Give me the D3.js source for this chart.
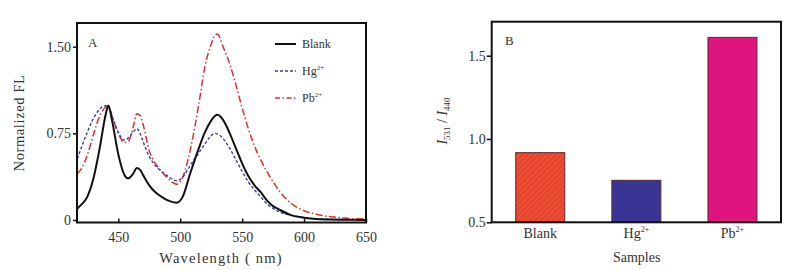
<!DOCTYPE html>
<html>
<head>
<meta charset="utf-8">
<script src="https://cdn.jsdelivr.net/npm/d3@7"></script>
<style>
  body { margin: 0; background: #fff; }
  svg { display: block; }
  svg text { font-family: "Liberation Serif", "DejaVu Serif", serif; }
</style>
</head>
<body>
<svg id="chart" width="802" height="270"></svg>
<script>
// panel A: normalized fluorescence spectra
const wavelengths = [417, 420, 425, 430, 435, 440, 442, 445, 450, 455, 458, 462, 465, 468, 470, 475, 480, 485, 490, 497,
  502, 508, 515, 520, 525, 528, 530, 535, 540, 545, 550, 555, 560, 565, 570, 575, 580, 590, 600, 610, 620, 630, 640, 650];
const blankFL = [0.10, 0.13, 0.20, 0.36, 0.62, 0.92, 0.99, 0.86, 0.57, 0.39, 0.36, 0.40, 0.45, 0.43, 0.39, 0.30, 0.24, 0.20, 0.17, 0.15,
  0.20, 0.40, 0.62, 0.76, 0.86, 0.90, 0.91, 0.86, 0.75, 0.62, 0.49, 0.38, 0.30, 0.24, 0.17, 0.12, 0.09, 0.04, 0.02, 0.008, 0.004, 0.002, 0.001, 0];
const hgFL = [0.53, 0.62, 0.76, 0.88, 0.96, 0.99, 0.98, 0.90, 0.76, 0.69, 0.71, 0.76, 0.79, 0.74, 0.68, 0.55, 0.47, 0.42, 0.38, 0.34,
  0.37, 0.47, 0.58, 0.66, 0.73, 0.75, 0.745, 0.70, 0.62, 0.52, 0.42, 0.33, 0.26, 0.20, 0.14, 0.10, 0.07, 0.04, 0.02, 0.01, 0.006, 0.004, 0.003, 0.002];
const pbFL = [0.40, 0.44, 0.56, 0.74, 0.90, 0.98, 0.99, 0.90, 0.75, 0.67, 0.68, 0.80, 0.92, 0.90, 0.83, 0.60, 0.49, 0.42, 0.36, 0.31,
  0.37, 0.60, 1.00, 1.33, 1.52, 1.60, 1.61, 1.49, 1.35, 1.17, 0.97, 0.79, 0.64, 0.52, 0.42, 0.33, 0.25, 0.14, 0.08, 0.05, 0.03, 0.02, 0.01, 0.01];
const flTicks = [0, 0.75, 1.5];
const wlTicks = [450, 500, 550, 600, 650];

// panel B: I531/I440 ratio
const samples = ["Blank", "Hg", "Pb"];
const sampleSup = ["", "2+", "2+"];
const ratios = [0.918, 0.752, 1.61];
const ratioTicks = [0.5, 1.0, 1.5];

const svg = d3.select("#chart");
const txt = "#333";
const serif = "Liberation Serif";

// ---------- panel A ----------
const x = d3.scaleLinear().domain([416.7, 650]).range([77, 366]);
const y = d3.scaleLinear().domain([-0.022, 1.705]).range([222.5, 23]);

const gA = svg.append("g");

const yAxisA = gA.append("g")
  .attr("transform", "translate(77,0)")
  .call(d3.axisLeft(y).tickValues(flTicks).tickSize(4).tickPadding(2)
    .tickFormat(d => d === 0 ? "0" : d3.format(".2f")(d)));
const xAxisA = gA.append("g")
  .attr("transform", "translate(0,222.5)")
  .call(d3.axisBottom(x).tickValues(wlTicks).tickSizeInner(-4).tickSizeOuter(0).tickPadding(10));
[yAxisA, xAxisA].forEach(a => {
  a.attr("font-family", serif).attr("font-size", 14);
  a.select(".domain").remove();
  a.selectAll(".tick line").attr("stroke", "#111").attr("stroke-width", 1.5);
  a.selectAll("text").attr("fill", txt);
});

const series = [
  { name: "Blank", sup: "", vals: blankFL, color: "#111", width: 2, dash: null },
  { name: "Hg", sup: "2+", vals: hgFL, color: "#3c3f9c", width: 1.4, dash: "3,2" },
  { name: "Pb", sup: "2+", vals: pbFL, color: "#e0302c", width: 1.5, dash: "7,2.5,1.5,2.5" }
];

const line = d3.line()
  .x((d, i) => x(wavelengths[i]))
  .y(d => y(d))
  .curve(d3.curveMonotoneX);

// back to front so the black line sits on top
[series[2], series[1], series[0]].forEach(s => {
  gA.append("path")
    .datum(s.vals)
    .attr("d", line)
    .attr("fill", "none")
    .attr("stroke", s.color)
    .attr("stroke-width", s.width)
    .attr("stroke-dasharray", s.dash);
});

gA.append("rect")
  .attr("x", 77).attr("y", 23).attr("width", 289).attr("height", 199.5)
  .attr("fill", "none").attr("stroke", "#111").attr("stroke-width", 2);

// legend
series.forEach((s, i) => {
  const ly = 44 + i * 27;
  gA.append("line")
    .attr("x1", 275).attr("x2", 296).attr("y1", ly).attr("y2", ly)
    .attr("stroke", s.color).attr("stroke-width", s.width)
    .attr("stroke-dasharray", s.dash ? (i === 1 ? "3,2" : "5,2.5,1.5,2.5") : null);
  const t = gA.append("text")
    .attr("x", 302).attr("y", ly + 4)
    .attr("font-size", 12).attr("fill", txt)
    .text(s.name);
  if (s.sup) t.append("tspan").attr("dy", -5).attr("font-size", 7).text(s.sup);
});

gA.append("text").attr("x", 88).attr("y", 47)
  .attr("font-size", 13).attr("fill", txt).text("A");

gA.append("text")
  .attr("x", 221).attr("y", 263)
  .attr("text-anchor", "middle").attr("font-size", 14.5)
  .attr("letter-spacing", 1.2).attr("fill", txt)
  .text("Wavelength ( nm)");

gA.append("text")
  .attr("transform", "translate(24,123) rotate(-90)")
  .attr("text-anchor", "middle").attr("font-size", 14.5)
  .attr("letter-spacing", 0.6).attr("fill", txt)
  .text("Normalized  FL");

// ---------- panel B ----------
const xb = d3.scaleBand().domain(samples).range([491.7, 781]).paddingInner(0.49).paddingOuter(0.25);
const yb = d3.scaleLinear().domain([0.5, 1.704]).range([222.3, 21.7]);

const gB = svg.append("g");

const defs = svg.append("defs");
const hatch = defs.append("pattern")
  .attr("id", "hatch").attr("patternUnits", "userSpaceOnUse")
  .attr("width", 4).attr("height", 4)
  .attr("patternTransform", "rotate(45)");
hatch.append("rect").attr("width", 4).attr("height", 4).attr("fill", "#e8432b");
hatch.append("line").attr("x1", 0).attr("x2", 0).attr("y1", 0).attr("y2", 4)
  .attr("stroke", "#f0674e").attr("stroke-width", 1.2);

const barFill = ["url(#hatch)", "#3a3594", "#e0147e"];

gB.selectAll("rect.bar")
  .data(ratios)
  .join("rect")
  .attr("class", "bar")
  .attr("x", (d, i) => xb(samples[i]))
  .attr("y", d => yb(d))
  .attr("width", xb.bandwidth())
  .attr("height", d => yb(0.5) - yb(d))
  .attr("fill", (d, i) => barFill[i])
  .attr("stroke", "#5b2b36").attr("stroke-width", 1);

const yAxisB = gB.append("g")
  .attr("transform", "translate(491.7,0)")
  .call(d3.axisLeft(yb).tickValues(ratioTicks).tickSize(5).tickPadding(1).tickFormat(d3.format(".1f")));
yAxisB.attr("font-family", serif).attr("font-size", 14);
yAxisB.select(".domain").remove();
yAxisB.selectAll(".tick line").attr("stroke", "#111").attr("stroke-width", 1.5);
yAxisB.selectAll("text").attr("fill", txt);

const xAxisB = gB.append("g")
  .attr("transform", "translate(0,222.3)")
  .call(d3.axisBottom(xb).tickSize(0).tickPadding(16).tickFormat(""));
xAxisB.attr("font-family", serif).attr("font-size", 14);
xAxisB.select(".domain").remove();
xAxisB.selectAll(".tick").each(function (d, i) {
  const t = d3.select(this).append("text")
    .attr("y", 16).attr("text-anchor", "middle")
    .attr("font-size", 14).attr("fill", txt)
    .text(d);
  if (sampleSup[i]) t.append("tspan").attr("dy", -6).attr("font-size", 8).text(sampleSup[i]);
});

gB.append("rect")
  .attr("x", 491.7).attr("y", 21.7).attr("width", 289.3).attr("height", 200.6)
  .attr("fill", "none").attr("stroke", "#111").attr("stroke-width", 2);

gB.append("text").attr("x", 505).attr("y", 45)
  .attr("font-size", 13).attr("fill", txt).text("B");

gB.append("text")
  .attr("x", 636.7).attr("y", 262)
  .attr("text-anchor", "middle").attr("font-size", 14).attr("fill", txt)
  .text("Samples");

const yl = gB.append("text")
  .attr("transform", "translate(447,121) rotate(-90)")
  .attr("text-anchor", "middle").attr("font-size", 14).attr("fill", txt);
yl.append("tspan").attr("font-style", "italic").text("I");
yl.append("tspan").attr("font-size", 9).attr("dy", 3).text("531");
yl.append("tspan").attr("dy", -3).text(" / ");
yl.append("tspan").attr("font-style", "italic").text("I");
yl.append("tspan").attr("font-size", 9).attr("dy", 3).text("440");
</script>
</body>
</html>
